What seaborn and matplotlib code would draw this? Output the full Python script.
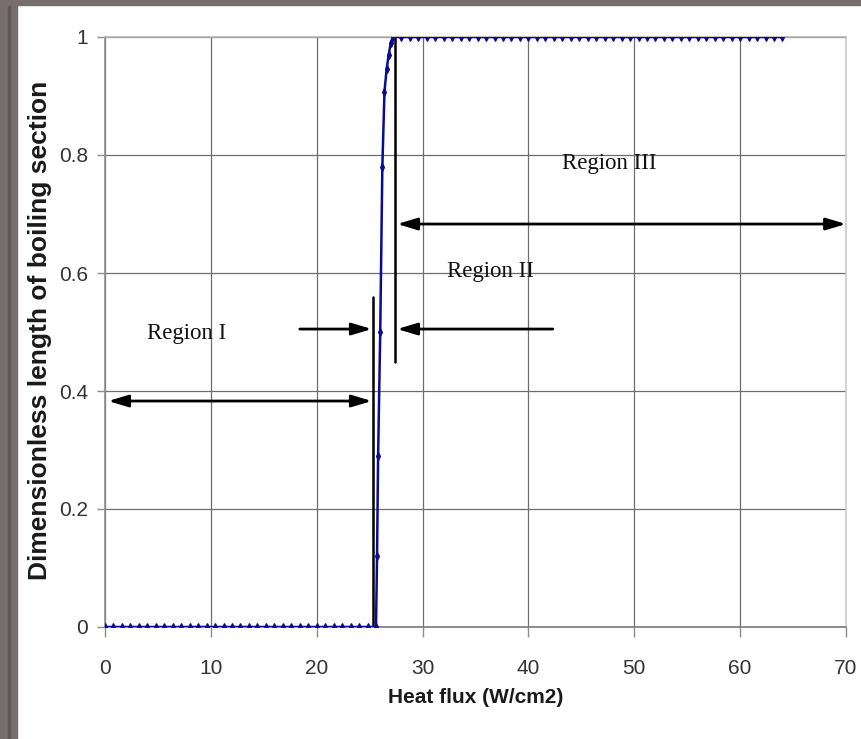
import matplotlib
matplotlib.use("Agg")
import matplotlib.pyplot as plt
import numpy as np
import pandas as pd
import seaborn as sns
from matplotlib.patches import Rectangle

# heat flux (W/cm2) and dimensionless boiling length
heat_flux = [
    0.0, 0.8, 1.6, 2.4, 3.2, 4.0, 4.8, 5.6, 6.4, 7.2, 8.0, 8.8, 9.6, 10.4, 11.2, 12.0,
    12.8, 13.6, 14.4, 15.2, 16.0, 16.8, 17.6, 18.4, 19.2, 20.0, 20.8, 21.6, 22.4, 23.2,
    24.0, 24.8, 25.6,
    25.7, 25.8, 26.0, 26.2, 26.4, 26.6, 26.8, 27.0,
    27.2, 28.0, 28.8, 29.6, 30.4, 31.2, 32.0, 32.8, 33.6, 34.4, 35.2, 36.0, 36.8, 37.6,
    38.4, 39.2, 40.0, 40.8, 41.6, 42.4, 43.2, 44.0, 44.8, 45.6, 46.4, 47.2, 48.0, 48.8,
    49.6, 50.4, 51.2, 52.0, 52.8, 53.6, 54.4, 55.2, 56.0, 56.8, 57.6, 58.4, 59.2, 60.0,
    60.8, 61.6, 62.4, 63.2, 64.0,
]
boil_len = (
    [0.0] * 33
    + [0.12, 0.29, 0.50, 0.78, 0.907, 0.945, 0.97, 0.99]
    + [1.0] * 47
)

x_ticks = [0, 10, 20, 30, 40, 50, 60, 70]
y_ticks = [0, 0.2, 0.4, 0.6, 0.8, 1.0]
y_ticklabels = ["0", "0.2", "0.4", "0.6", "0.8", "1"]

# region markers: (x_start, x_end, y, style)
arrows = [
    (25.2, 0.3, 0.383, "<|-|>"),
    (18.4, 25.2, 0.505, "-|>"),
    (42.3, 27.6, 0.505, "-|>"),
    (27.6, 70.0, 0.683, "<|-|>"),
]
bars = [(25.3, 0.0, 0.559), (27.4, 0.449, 1.0)]
region_labels = [("Region I", 7.7, 0.498), ("Region II", 36.4, 0.603), ("Region III", 47.6, 0.786)]

df = pd.DataFrame({"flux": heat_flux, "len": boil_len})

sns.set_style("white")
plt.rcParams["font.family"] = ["Liberation Sans", "DejaVu Sans"]

fig = plt.figure(figsize=(8.62, 7.39), dpi=100)
ax = fig.add_axes([105 / 862, 1 - 627 / 739, 741 / 862, 590 / 739])

# outer grey frame of the screenshot
fig.patches.append(Rectangle((0, 0), 17 / 862, 1, transform=fig.transFigure, color="#786e6e", zorder=0))
fig.patches.append(Rectangle((8 / 862, 0), 2 / 862, 1, transform=fig.transFigure, color="#5f5656", zorder=0))
fig.patches.append(Rectangle((0, 1 - 5 / 739), 1, 5 / 739, transform=fig.transFigure, color="#786e6e", zorder=0))

sns.lineplot(data=df, x="flux", y="len", ax=ax, sort=False, estimator=None, color="#0a0a96",
             linewidth=1.8, marker="d", markersize=4, markeredgewidth=0.8, markeredgecolor="#0a0a96", zorder=4)

for x0, x1, y, st in arrows:
    ax.annotate("", xy=(x1, y), xytext=(x0, y),
                arrowprops=dict(arrowstyle=f"{st},head_length=1.2,head_width=0.36", color="black", lw=2,
                                shrinkA=0, shrinkB=0), zorder=5)
for xv, y0, y1 in bars:
    ax.plot([xv, xv], [y0, y1], color="black", lw=1.8, zorder=3)
for txt, xv, yv in region_labels:
    ax.text(xv, yv, txt, ha="center", va="center", fontsize=16.5, family=["Liberation Serif", "DejaVu Serif"],
            color="#111111", zorder=6)

ax.set_xlim(0, 70)
ax.set_ylim(0, 1)
ax.set_xticks(x_ticks)
ax.set_yticks(y_ticks)
ax.set_yticklabels(y_ticklabels)
ax.grid(True, color="#6e6e6e", linewidth=0.9)
ax.set_axisbelow(True)

ax.spines["left"].set_color("#8c8c8c")
ax.spines["bottom"].set_color("#7a7a7a")
ax.spines["top"].set_color("#b4b4b4")
ax.spines["right"].set_color("#cccccc")
for s in ax.spines.values():
    s.set_linewidth(1.2)

ax.tick_params(axis="x", direction="out", length=7, width=1, color="#8c8c8c", pad=16, labelsize=15, labelcolor="#333333", bottom=True)
ax.tick_params(axis="y", direction="out", length=6, width=1, color="#8c8c8c", pad=6, labelsize=15, labelcolor="#333333", left=True)

ax.set_xlabel("Heat flux (W/cm2)", fontsize=15, fontweight="bold", color="#1a1a1a")
ax.set_ylabel("Dimensionless length of boiling section", fontsize=19, fontweight="bold", color="#1a1a1a")
ax.xaxis.set_label_coords(0.5, -0.103)
ax.yaxis.set_label_coords(-0.071, 0.503)

fig.savefig("out.png", dpi=100, facecolor="white")
